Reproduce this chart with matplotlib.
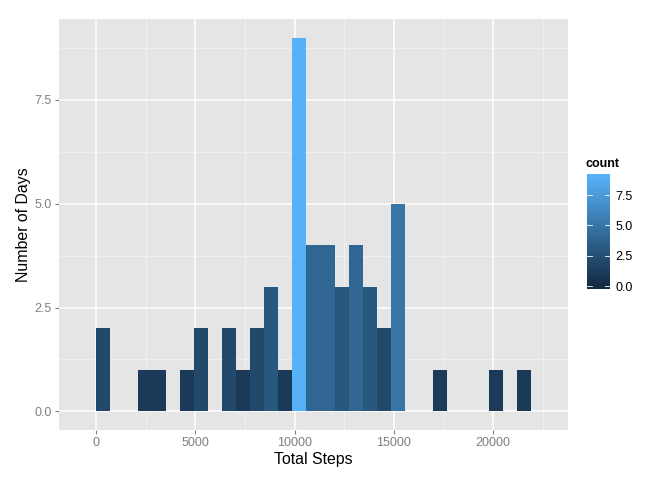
import numpy as np
import matplotlib.pyplot as plt
from matplotlib.colors import LinearSegmentedColormap, Normalize

# histogram counts, 30 bins over the range 0..21194, starting at 0
max_steps = 21194
binwidth = max_steps / 30
counts = [2, 0, 0, 1, 1, 0, 1, 2, 0, 2, 1, 2, 3, 1, 9, 4, 4, 3, 4, 3, 2, 5,
          0, 0, 1, 0, 0, 0, 1, 0, 1]
x_ticks = [0, 5000, 10000, 15000, 20000]
y_ticks = [0.0, 2.5, 5.0, 7.5]
cbar_ticks = [0.0, 2.5, 5.0, 7.5]

plt.rcParams['font.family'] = ['Liberation Sans', 'DejaVu Sans']

cmap = LinearSegmentedColormap.from_list('gg', ['#132B43', '#56B1F7'])
norm = Normalize(0, max(counts))

fig = plt.figure(figsize=(6.72, 4.8), dpi=100)
ax = fig.add_axes([59 / 672, 50 / 480, 509 / 672, 411 / 480])
ax.set_facecolor('#E5E5E5')

lefts = np.arange(len(counts)) * binwidth
ax.bar(lefts, counts, width=binwidth, align='edge',
       color=cmap(norm(np.array(counts))), linewidth=0, zorder=3)

# limits: ggplot includes empty bins at each end, then 5% expansion
lo, hi = -binwidth, (len(counts) + 1) * binwidth
pad = (hi - lo) * 0.05
ax.set_xlim(lo - pad, hi + pad)
ax.set_ylim(-0.45, 9.45)

for v in np.arange(2500, 25000, 5000):
    ax.axvline(v, color='#F2F2F2', lw=0.6, zorder=1)
for v in [1.25, 3.75, 6.25, 8.75]:
    ax.axhline(v, color='#F2F2F2', lw=0.6, zorder=1)
for v in x_ticks:
    ax.axvline(v, color='white', lw=1.1, zorder=2)
for v in y_ticks:
    ax.axhline(v, color='white', lw=1.1, zorder=2)

ax.set_xticks(x_ticks)
ax.set_xticklabels([str(t) for t in x_ticks])
ax.set_yticks(y_ticks)
ax.set_yticklabels([f'{t:.1f}' for t in y_ticks])
ax.tick_params(colors='#7F7F7F', labelcolor='#7F7F7F', labelsize=9,
               length=3, width=0.8, pad=2)
for s in ax.spines.values():
    s.set_visible(False)

ax.set_xlabel('Total Steps', fontsize=11.4, labelpad=2)
ax.set_ylabel('Number of Days', fontsize=11.4, labelpad=3)

# colour bar legend
cax = fig.add_axes([587 / 672, (480 - 289) / 480, 23 / 672, 115 / 480])
lo_c, hi_c = -0.22, 9.23
grad = np.linspace(lo_c, hi_c, 256).reshape(-1, 1)
cax.imshow(grad, cmap=cmap, norm=norm, aspect='auto', origin='lower',
           extent=[0, 1, lo_c, hi_c])
cax.set_xlim(0, 1)
cax.set_ylim(lo_c, hi_c)
for t in cbar_ticks:
    cax.plot([0, 0.2], [t, t], color='white', lw=0.6)
    cax.plot([0.8, 1], [t, t], color='white', lw=0.6)
cax.set_xticks([])
cax.yaxis.tick_right()
cax.set_yticks(cbar_ticks)
cax.set_yticklabels([f'{t:.1f}' for t in cbar_ticks])
cax.tick_params(length=0, labelsize=9, labelcolor='black', pad=4)
for s in cax.spines.values():
    s.set_visible(False)
fig.text(585 / 672, 1 - 164 / 480, 'count', fontsize=9, fontweight='bold',
         va='center', ha='left')

fig.savefig('out.png', dpi=100)
